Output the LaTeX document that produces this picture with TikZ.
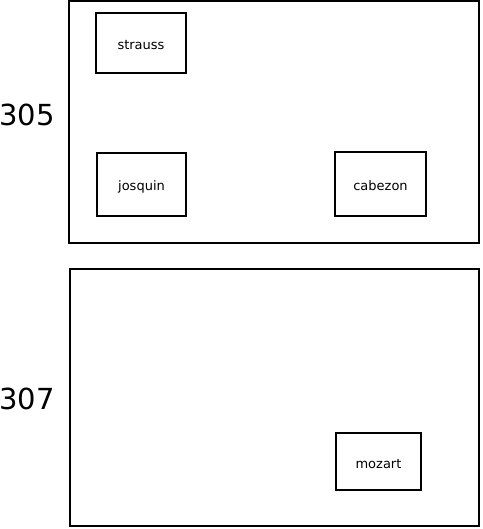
\documentclass[tikz,border=0pt]{standalone}
\usepackage{fontspec}
\setmainfont{DejaVu Sans}
\usepackage{tikz}
\tikzset{
    room/.style={draw, line width=2pt, inner sep=0pt},
    person/.style={draw, line width=2pt, inner sep=0pt, text height=13pt, text depth=0pt,
        font=\fontsize{13}{15}\selectfont},
    roomnum/.style={inner sep=0pt, font=\fontsize{29}{33}\selectfont}
}

\begin{document}
\begin{tikzpicture}[x=1pt, y=-1pt]
    \useasboundingbox (0,0) rectangle (482,529);

    % Rooms
    \node[room, minimum width=410pt, minimum height=242pt] (r305) at (274,122) {};
    \node[room, minimum width=409pt, minimum height=257pt] (r307) at (274.5,397.5) {};

    % Room numbers
    \node[roomnum] (n305) at (27,115) {305};
    \node[roomnum] (n307) at (27,399) {307};

    % People in room 305
    \node[person, minimum width=90pt, minimum height=60pt] (strauss) at (141,43) {strauss};
    \node[person, minimum width=89pt, minimum height=63pt] (josquin) at (141.5,184.5) {josquin};
    \node[person, minimum width=91pt, minimum height=64pt] (cabezon) at (380.5,184) {cabezon};

    % People in room 307
    \node[person, minimum width=85pt, minimum height=57pt] (mozart) at (378.5,461.5) {mozart};
\end{tikzpicture}
\end{document}
